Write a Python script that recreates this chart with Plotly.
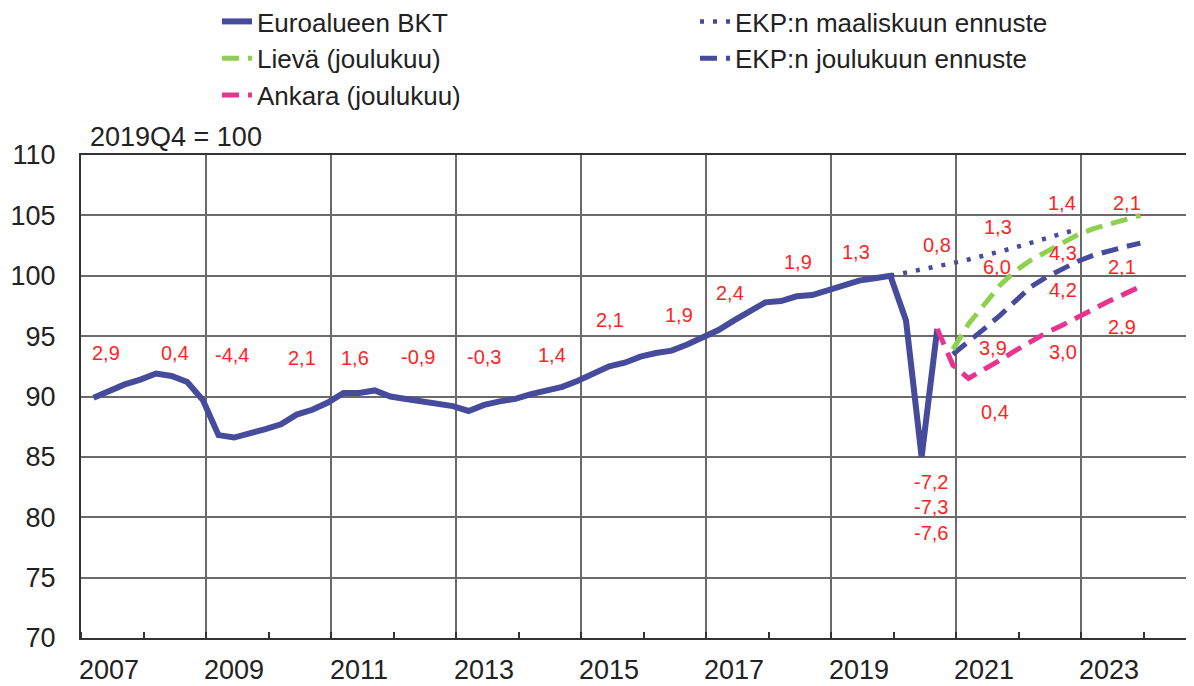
import plotly.graph_objects as go

# ---------------- data ----------------
first_year = 2007
# Euro area GDP, 2019Q4 = 100, 2007Q1 .. 2020Q3
gdp = [89.9, 90.5, 91.0, 91.4, 91.9, 91.7, 91.2, 89.7,
       86.8, 86.6, 86.9, 87.3, 87.7, 88.5, 88.9, 89.5,
       90.3, 90.3, 90.5, 90.0, 89.8, 89.6, 89.5, 89.2,
       88.8, 89.3, 89.6, 89.8, 90.2, 90.5, 90.8, 91.3,
       91.9, 92.5, 92.8, 93.3, 93.6, 93.8, 94.3, 94.95,
       95.5, 96.3, 97.0, 97.8, 97.9, 98.3, 98.4, 98.8,
       99.3, 99.6, 99.8, 100.0, 96.3, 85.0, 95.6]
# ECB March projection, 2019Q4 .. 2022Q4
march_start = 51
march = [100.0, 100.25, 100.5, 100.75, 101.05, 101.35, 101.65, 102.0,
         102.35, 102.75, 103.1, 103.5, 103.85]
# December severe scenario, 2020Q3 .. 2023Q4
severe_start = 54
severe = [95.6, 92.6, 91.5, 92.2, 93.0, 93.8, 94.6, 95.3, 95.9, 96.6,
          97.2, 97.9, 98.5, 99.1]
# December mild scenario and baseline, 2020Q4 .. 2023Q4
dec_start = 55
mild = [93.9, 96.0, 97.6, 99.2, 100.4, 101.3, 102.0, 102.7, 103.4,
        103.9, 104.3, 104.6, 105.0]
december = [93.5, 94.5, 95.6, 96.7, 97.9, 99.1, 99.9, 100.6, 101.2,
            101.7, 102.1, 102.4, 102.7]

# annual growth labels (text, year position, value position)
label_text = ["2,9", "0,4", "-4,4", "2,1", "1,6", "-0,9", "-0,3", "1,4",
              "2,1", "1,9", "2,4", "1,9", "1,3", "0,8", "1,3", "1,4", "2,1",
              "6,0", "4,3", "2,1", "4,2", "2,9", "3,9", "3,0", "0,4",
              "-7,2", "-7,3", "-7,6"]
label_year = [2007.40, 2008.50, 2009.42, 2010.54, 2011.38, 2012.39, 2013.45, 2014.54,
              2015.46, 2016.57, 2017.38, 2018.47, 2019.40, 2020.70, 2021.67, 2022.70, 2023.74,
              2021.66, 2022.71, 2023.66, 2022.71, 2023.66, 2021.59, 2022.71, 2021.62,
              2020.60, 2020.60, 2020.60]
label_value = [93.6, 93.6, 93.44, 93.19, 93.19, 93.27, 93.27, 93.44,
               96.33, 96.75, 98.57, 101.14, 101.97, 102.55, 104.04, 106.02, 106.02,
               100.72, 101.88, 100.72, 98.82, 95.76, 94.02, 93.69, 88.72,
               82.92, 80.85, 78.70]

year_ticks = [2007, 2009, 2011, 2013, 2015, 2017, 2019, 2021, 2023]
all_years = list(range(2007, 2026))


def qpos(i):
    # quarter index -> decimal year position (end of quarter)
    return first_year + (i + 1) / 4 - 0.05


FONT = "Liberation Sans, Arial, sans-serif"
BLUE = "#464B9C"
GREEN = "#8FD14F"
PINK = "#E8348F"
TXT = "#222"

fig = go.Figure()
fig.add_trace(go.Scatter(
    x=[qpos(i) for i in range(len(gdp))], y=gdp, mode="lines",
    name="Euroalueen BKT", line=dict(color=BLUE, width=6),
    legend="legend", legendrank=1, legendgroup="a"))
fig.add_trace(go.Scatter(
    x=[qpos(march_start + i) for i in range(len(march))], y=march, mode="lines",
    name="EKP:n maaliskuun ennuste", line=dict(color=BLUE, width=4.5, dash="4px,9px"),
    legend="legend2", legendrank=1, legendgroup="d"))
fig.add_trace(go.Scatter(
    x=[qpos(dec_start + i) for i in range(len(december))], y=december, mode="lines",
    name="EKP:n joulukuun ennuste", line=dict(color=BLUE, width=5, dash="17px,9px"),
    legend="legend2", legendrank=2, legendgroup="e"))
fig.add_trace(go.Scatter(
    x=[qpos(dec_start + i) for i in range(len(mild))], y=mild, mode="lines",
    name="Lievä (joulukuu)", line=dict(color=GREEN, width=5, dash="17px,9px"),
    legend="legend", legendrank=2, legendgroup="b"))
fig.add_trace(go.Scatter(
    x=[qpos(severe_start + i) for i in range(len(severe))], y=severe, mode="lines",
    name="Ankara (joulukuu)", line=dict(color=PINK, width=5, dash="17px,9px"),
    legend="legend", legendrank=3, legendgroup="c"))

for t, xv, yv in zip(label_text, label_year, label_value):
    fig.add_annotation(x=xv, y=yv, xref="x", yref="y", text=t, showarrow=False,
                       font=dict(family=FONT, size=20, color="#FF2424"),
                       xanchor="center", yanchor="middle")

fig.add_annotation(x=0.006, y=1.037, xref="paper", yref="paper", text="2019Q4 = 100",
                   showarrow=False, xanchor="left", yanchor="middle",
                   font=dict(family=FONT, size=27, color=TXT))

# the page body adds an 8px offset; margins compensate so the plot sits as in the reference
L, T, B = 73, 147, 56
plot_w = 1194 - L
plot_h = 686 - T - B
leg_y = 1 + (T + 10) / plot_h
grid_col = "#6A6A6A"
fig.update_layout(
    width=1194, height=686,
    margin=dict(l=L, r=0, t=T, b=B, autoexpand=False),
    paper_bgcolor="white", plot_bgcolor="white",
    font=dict(family=FONT, size=27, color=TXT),
    showlegend=True,
    legend=dict(x=209 / 1194, y=leg_y, xref="container", yref="paper",
                xanchor="left", yanchor="top", bgcolor="rgba(0,0,0,0)",
                font=dict(family=FONT, size=26, color=TXT),
                traceorder="grouped", tracegroupgap=0, itemwidth=30),
    legend2=dict(x=687 / 1194, y=leg_y, xref="container", yref="paper",
                 xanchor="left", yanchor="top", bgcolor="rgba(0,0,0,0)",
                 font=dict(family=FONT, size=26, color=TXT),
                 traceorder="grouped", tracegroupgap=0, itemwidth=30),
    xaxis=dict(range=[2007, 2007 + plot_w / 62.5], tickmode="array",
               tickvals=year_ticks, ticktext=[str(y) for y in year_ticks],
               ticklabelshift=28, ticks="", showgrid=True, gridcolor=grid_col, gridwidth=1.5,
               showline=True, linecolor="#333", linewidth=2, mirror=True, zeroline=False,
               tickangle=0, automargin=False,
               tickfont=dict(family=FONT, size=27, color=TXT), ticklabelstandoff=7,
               minor=dict(tickmode="array", tickvals=all_years, ticks="inside", ticklen=6,
                          tickwidth=1.5, tickcolor="#333", showgrid=False)),
    yaxis=dict(range=[70, 110], tickmode="array", tickvals=list(range(70, 111, 5)),
               showgrid=True, gridcolor=grid_col, gridwidth=1.5, zeroline=False,
               showline=True, linecolor="#333", linewidth=2, ticks="", automargin=False,
               ticklabelstandoff=18,
               tickfont=dict(family=FONT, size=27, color=TXT)),
)

fig.write_html("out.html")
